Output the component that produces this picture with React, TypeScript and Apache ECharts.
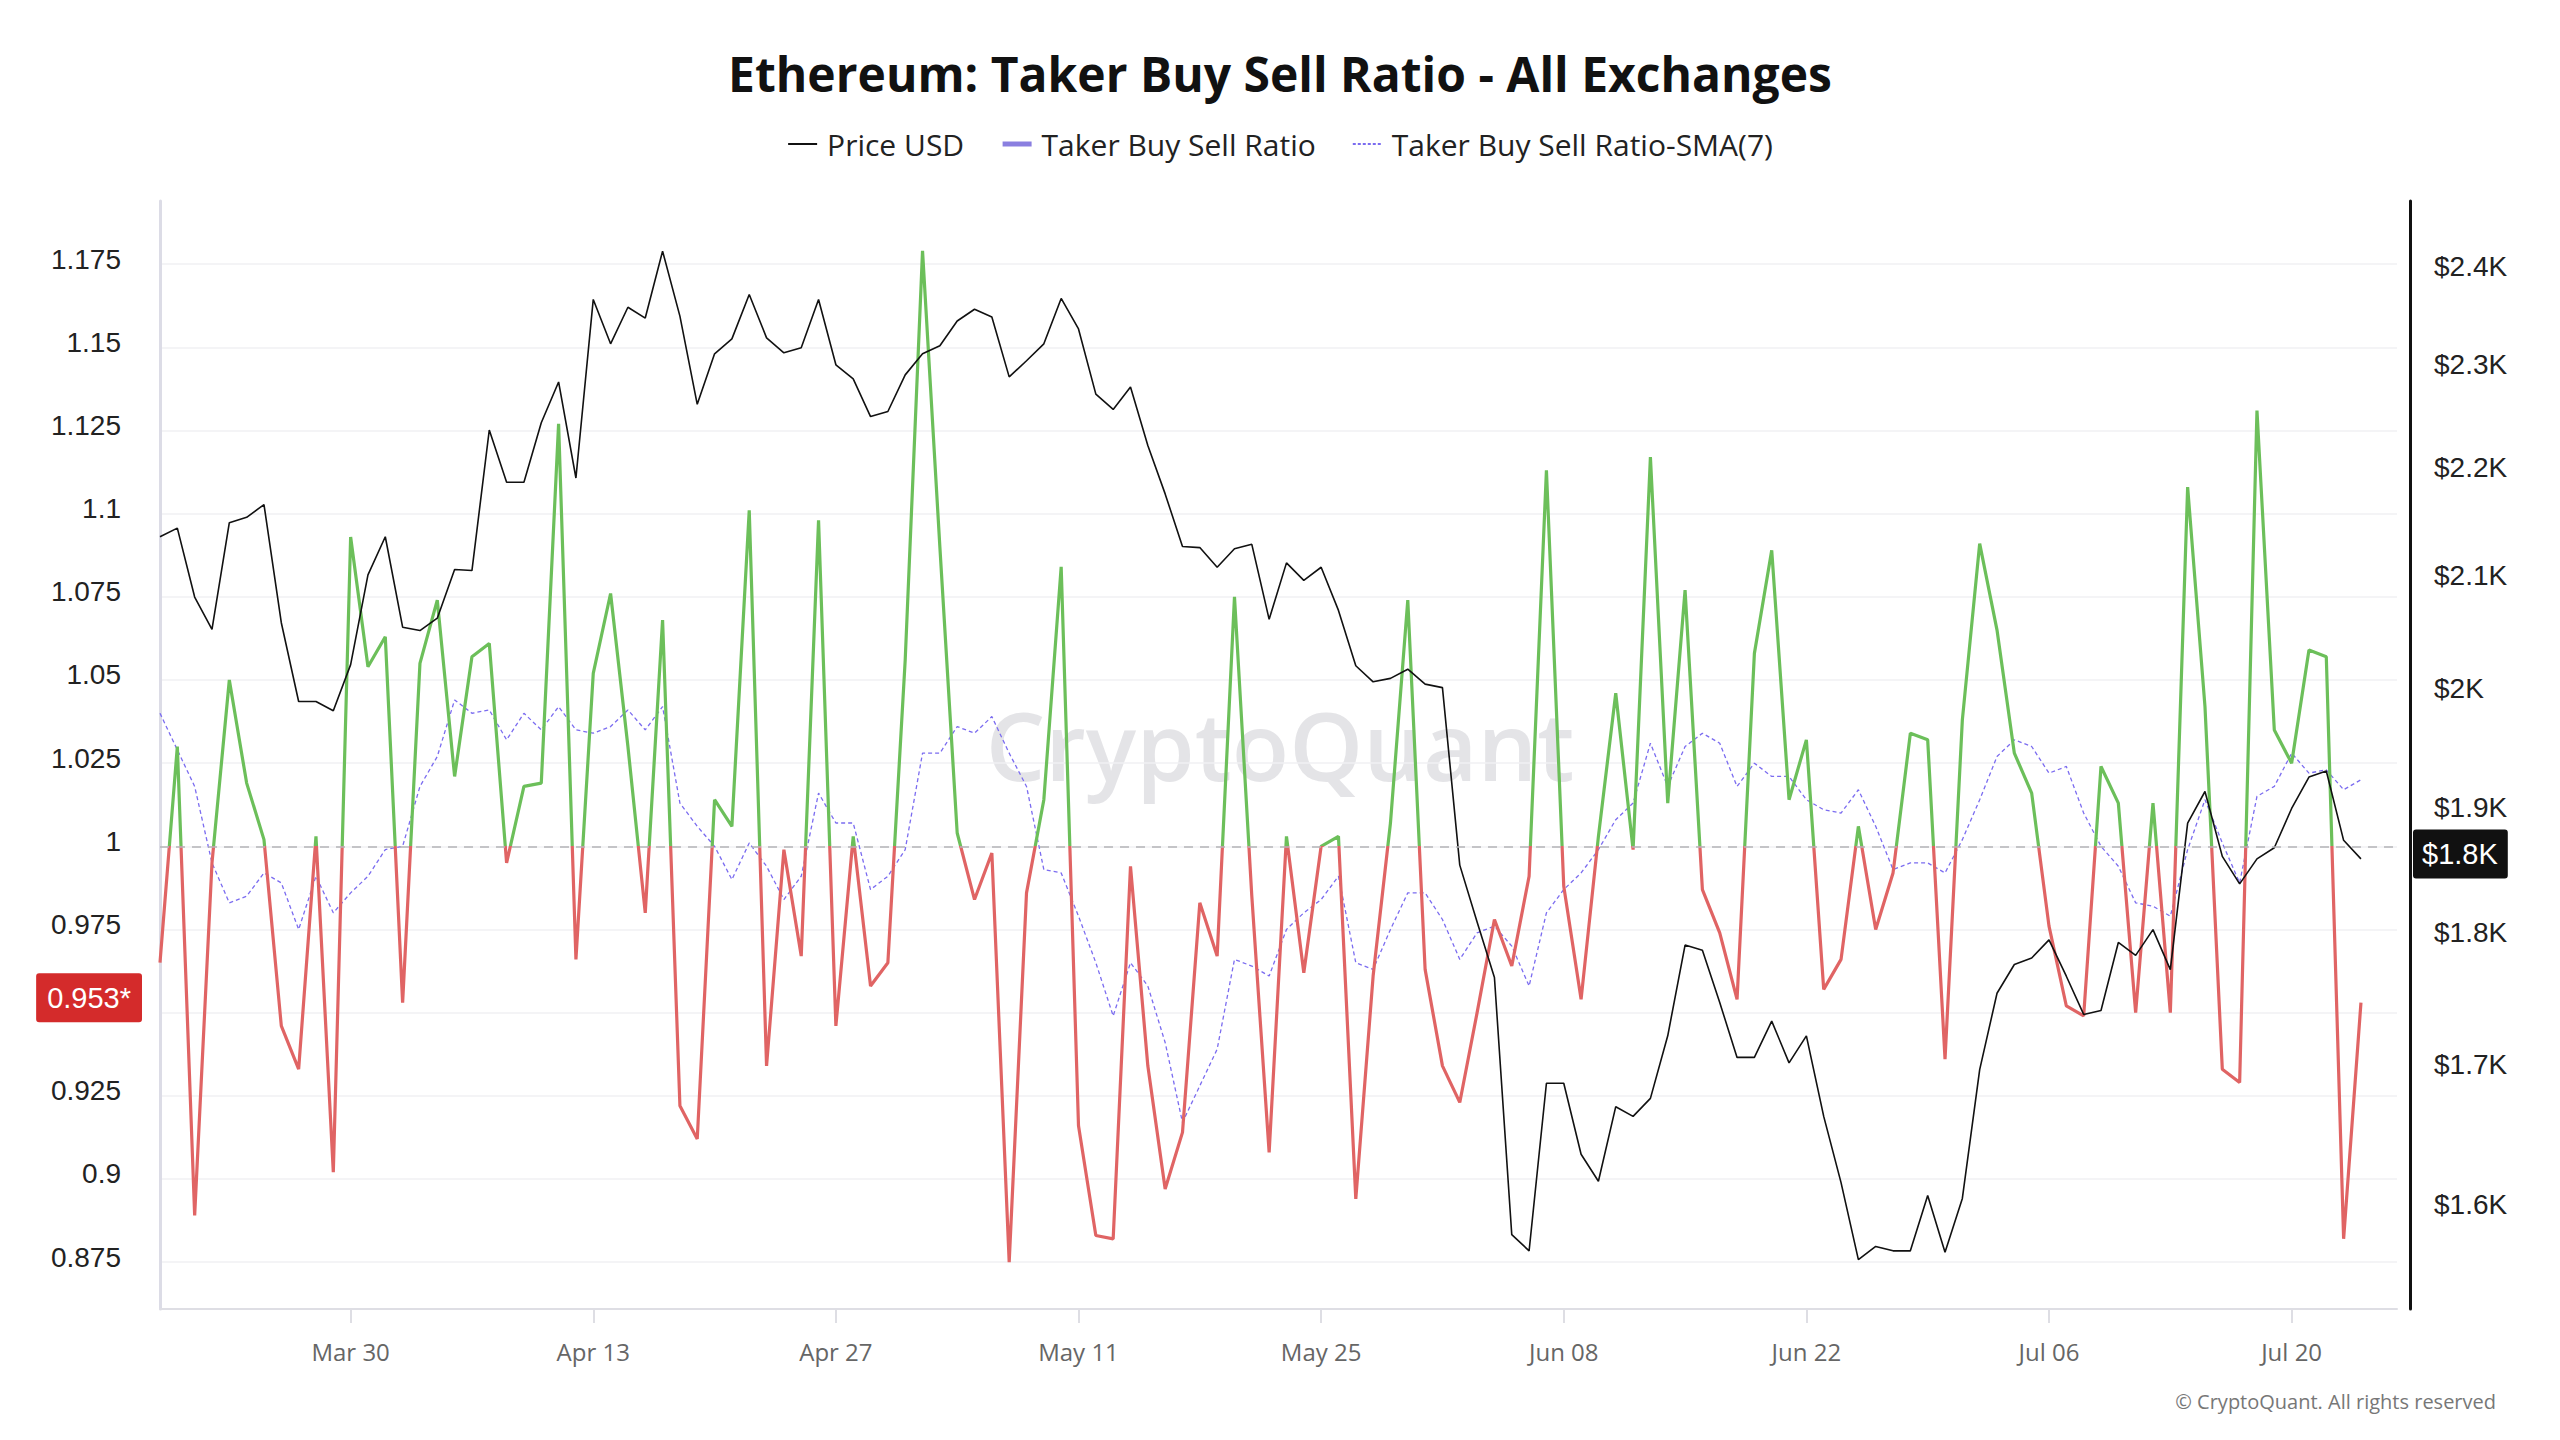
import React, { useEffect, useRef } from "react";
import * as echarts from "echarts";

const START_DATE = "2023-03-19";
const DAY_MS = 86400000;

const priceUsd = [
  2140, 2148, 2085, 2056, 2153, 2158, 2170, 2062, 1993, 1993,
  1985, 2025, 2105, 2140, 2058, 2055, 2066, 2110, 2109, 2241,
  2191, 2191, 2248, 2288, 2195, 2371, 2326, 2363, 2352, 2421,
  2354, 2266, 2316, 2331, 2376, 2332, 2317, 2322, 2371, 2305,
  2291, 2254, 2259, 2295, 2316, 2324, 2349, 2361, 2353, 2293,
  2309, 2326, 2372, 2341, 2276, 2261, 2283, 2226, 2180, 2131,
  2130, 2112, 2129, 2133, 2065, 2116, 2100, 2112, 2073, 2024,
  2010, 2013, 2021, 2008, 2005, 1857, 1812, 1769, 1583, 1572,
  1690, 1690, 1639, 1620, 1673, 1666, 1679, 1725, 1794, 1790,
  1750, 1709, 1709, 1736, 1705, 1725, 1666, 1619, 1566, 1575,
  1572, 1572, 1610, 1571, 1608, 1700, 1757, 1779, 1784, 1798,
  1770, 1741, 1744, 1796, 1786, 1806, 1775, 1891, 1917, 1864,
  1842, 1862, 1871, 1903, 1929, 1934, 1877, 1862,
];

const takerBuySellRatio = [
  0.965, 1.03, 0.889, 0.995, 1.05, 1.019, 1.002, 0.946, 0.933, 1.003,
  0.902, 1.093, 1.054, 1.063, 0.953, 1.055, 1.074, 1.021, 1.057, 1.061,
  0.995, 1.018, 1.019, 1.127, 0.966, 1.052, 1.076, 1.03, 0.98, 1.068,
  0.922, 0.912, 1.014, 1.006, 1.101, 0.934, 0.999, 0.967, 1.098, 0.946,
  1.003, 0.958, 0.965, 1.056, 1.179, 1.09, 1.004, 0.984, 0.998, 0.875,
  0.986, 1.014, 1.084, 0.916, 0.883, 0.882, 0.994, 0.934, 0.897, 0.914,
  0.983, 0.967, 1.075, 0.985, 0.908, 1.003, 0.962, 1.0, 1.003, 0.894,
  0.961, 1.007, 1.074, 0.963, 0.934, 0.923, 0.95, 0.978, 0.964, 0.991,
  1.113, 0.988, 0.954, 1.003, 1.046, 0.999, 1.117, 1.013, 1.077, 0.987,
  0.974, 0.954, 1.058, 1.089, 1.014, 1.032, 0.957, 0.966, 1.006, 0.975,
  0.992, 1.034, 1.032, 0.936, 1.038, 1.091, 1.065, 1.028, 1.016, 0.976,
  0.952, 0.949, 1.024, 1.013, 0.95, 1.013, 0.95, 1.108, 1.042, 0.933,
  0.929, 1.131, 1.035, 1.025, 1.059, 1.057, 0.882, 0.953,
];

const takerBuySellRatioSma7 = [
  1.04, 1.029, 1.018, 0.995, 0.983, 0.985, 0.992, 0.989, 0.975, 0.991,
  0.98, 0.986, 0.991, 0.999, 1.0, 1.018, 1.027, 1.044, 1.04, 1.041,
  1.032, 1.04, 1.035, 1.042, 1.035, 1.034, 1.036, 1.041, 1.035, 1.042,
  1.013, 1.006, 1.0, 0.99, 1.001, 0.994, 0.984, 0.991, 1.016, 1.007,
  1.007, 0.987, 0.991, 0.999, 1.028, 1.028, 1.036, 1.034, 1.039, 1.028,
  1.018, 0.993, 0.992, 0.979, 0.965, 0.949, 0.965, 0.958, 0.941, 0.917,
  0.928, 0.939, 0.966, 0.964, 0.961, 0.975, 0.98, 0.984, 0.991, 0.965,
  0.963, 0.975, 0.986, 0.986, 0.978, 0.966, 0.974, 0.976, 0.97, 0.958,
  0.98, 0.987, 0.992, 0.999, 1.008, 1.013, 1.031, 1.018, 1.03, 1.034,
  1.031, 1.018, 1.025, 1.021, 1.021, 1.014, 1.011, 1.01, 1.017, 1.006,
  0.993, 0.995, 0.995, 0.992, 1.002, 1.014, 1.027, 1.032, 1.03, 1.022,
  1.024, 1.01, 1.0, 0.994, 0.983, 0.982, 0.979, 0.999, 1.014, 1.001,
  0.989, 1.015, 1.018, 1.028, 1.022, 1.023, 1.017, 1.02,
];

const ratioTickValues = [0.875, 0.9, 0.925, 0.95, 0.975, 1, 1.025, 1.05, 1.075, 1.1, 1.125, 1.15, 1.175];
const priceTickValues = [1600, 1700, 1800, 1900, 2000, 2100, 2200, 2300, 2400];
const dateTickValues = [
  "2023-03-30", "2023-04-13", "2023-04-27", "2023-05-11", "2023-05-25",
  "2023-06-08", "2023-06-22", "2023-07-06", "2023-07-20",
];
const MONTHS = ["Jan", "Feb", "Mar", "Apr", "May", "Jun", "Jul", "Aug", "Sep", "Oct", "Nov", "Dec"];

const RATIO_MIN = 0.8609;
const RATIO_MAX = 1.194;
const PRICE_MIN = 1533;
const PRICE_MAX = 2474;
const GREEN = "#6cbf5a";
const RED = "#e06464";

const toMs = (d: string) => Date.parse(d + "T00:00:00Z");
const startMs = toMs(START_DATE);
const dayIndexOf = (d: string) => Math.round((toMs(d) - startMs) / DAY_MS);
const dateTickIdx = dateTickValues.map(dayIndexOf);

const fmtDate = (idx: number) => {
  const d = new Date(startMs + Math.round(idx) * DAY_MS);
  return `${MONTHS[d.getUTCMonth()]} ${String(d.getUTCDate()).padStart(2, "0")}`;
};
const fmtPrice = (v: number) => `$${Math.floor(v / 100 + 1e-6) / 10}K`;
const fmtRatio = (v: number) => String(+(+v).toFixed(3));

const axisFont = "Liberation Sans, Arial, sans-serif";
const uiFont = "Open Sans, Noto Sans, sans-serif";

function buildOption(ratioColoring: "visualMap" | any): any {
  const lastRatio = takerBuySellRatio[takerBuySellRatio.length - 1];
  const lastPrice = priceUsd[priceUsd.length - 1];
  const useVM = ratioColoring === "visualMap";
  const hiddenLine = { color: "rgba(0,0,0,0)", width: 0 };
  // axis label text sits a few pixels above its tick, as in the reference
  const liftedLabel = { verticalAlign: "bottom", lineHeight: 10 };
  return {
    animation: false,
    backgroundColor: "#ffffff",
    title: {
      text: "Ethereum: Taker Buy Sell Ratio - All Exchanges",
      left: "center",
      top: 44,
      textStyle: { fontFamily: uiFont, fontWeight: "bold", fontSize: 48, color: "#111111" },
    },
    legend: {
      top: 124,
      left: "center",
      itemGap: 36,
      itemWidth: 29,
      itemHeight: 14,
      itemStyle: { opacity: 0 },
      textStyle: { fontFamily: uiFont, fontSize: 30, color: "#222222", padding: [0, 0, 0, 5] },
      data: [
        { name: "Price USD", lineStyle: { color: "#111111", width: 2 } },
        { name: "Taker Buy Sell Ratio", lineStyle: { color: "#8a7fe0", width: 5 } },
        { name: "Taker Buy Sell Ratio-SMA(7)", lineStyle: { color: "#7b6cf0", width: 2, type: [3, 2] } },
      ],
    },
    grid: { left: 160, right: 163, top: 201, bottom: 131, containLabel: false },
    visualMap: useVM
      ? {
          type: "piecewise",
          show: false,
          seriesIndex: 1,
          dimension: 1,
          pieces: [
            { gt: 1, lte: 10, color: GREEN },
            { gt: -10, lte: 1, color: RED },
          ],
          outOfRange: { color: RED },
        }
      : undefined,
    graphic: [
      {
        type: "text",
        left: "center",
        top: 698,
        z: 0,
        silent: true,
        style: { text: "CryptoQuant", fontFamily: uiFont, fontSize: 94, fontWeight: 600, fill: "rgba(190,190,198,0.42)" },
      },
      {
        type: "text",
        right: 64,
        top: 1391,
        style: { text: "© CryptoQuant. All rights reserved", fontFamily: uiFont, fontSize: 20, fill: "#777777" },
      },
    ],
    xAxis: {
      type: "value",
      min: 0,
      max: 129.08,
      axisLine: { show: true, onZero: false, lineStyle: { color: "#dedee4", width: 2 } },
      axisTick: { show: true, length: 14, customValues: dateTickIdx, lineStyle: { color: "#dedee4", width: 2 } },
      axisLabel: {
        customValues: dateTickIdx,
        formatter: (v: number) => fmtDate(v),
        fontFamily: uiFont,
        fontSize: 24,
        color: "#666666",
        margin: 30,
      },
      splitLine: { show: false },
    },
    yAxis: [
      {
        type: "value",
        position: "left",
        min: RATIO_MIN,
        max: RATIO_MAX,
        offset: 13,
        axisLine: { show: true, lineStyle: { color: "#dcdce6", width: 3 } },
        axisTick: { show: false, customValues: ratioTickValues },
        axisLabel: {
          customValues: ratioTickValues,
          // labels hidden behind the current-value tag
          formatter: (v: number) => (Math.abs(v - lastRatio) < 0.008 ? "" : fmtRatio(v)),
          fontFamily: axisFont,
          fontSize: 28,
          color: "#222222",
          margin: 26,
          ...liftedLabel,
        },
        splitLine: { show: true, lineStyle: { color: "#f1f1f3", width: 1.5 } },
      },
      {
        type: "log",
        logBase: 10,
        position: "right",
        min: PRICE_MIN,
        max: PRICE_MAX,
        offset: 13,
        axisLine: { show: true, lineStyle: { color: "#111111", width: 3 } },
        axisTick: { show: false },
        axisLabel: {
          customValues: priceTickValues,
          formatter: (v: number) => (Math.abs(Math.log(v / lastPrice)) < 0.011 ? "" : fmtPrice(v)),
          fontFamily: axisFont,
          fontSize: 28,
          color: "#222222",
          margin: 24,
          ...liftedLabel,
        },
        splitLine: { show: false },
      },
    ],
    series: [
      {
        name: "Price USD",
        type: "line",
        yAxisIndex: 1,
        symbol: "none",
        z: 4,
        color: "#111111",
        lineStyle: { color: "#111111", width: 1.6 },
        data: priceUsd.map((v, i) => [i, v]),
        markLine: {
          silent: true,
          precision: 3,
          symbol: ["none", "none"],
          data: [
            {
              yAxis: lastPrice,
              lineStyle: hiddenLine,
              label: {
                show: true,
                position: "end",
                distance: 16,
                offset: [0, -5],
                formatter: (p: any) => fmtPrice(p.value),
                backgroundColor: "#111111",
                color: "#ffffff",
                fontFamily: axisFont,
                fontSize: 29,
                padding: [10, 10, 10, 9],
                borderRadius: 3,
              },
            },
          ],
        },
      },
      {
        name: "Taker Buy Sell Ratio",
        type: "line",
        yAxisIndex: 0,
        symbol: "none",
        z: 3,
        color: "#8a7fe0",
        lineStyle: useVM ? { width: 3.2 } : { width: 3.2, color: ratioColoring },
        data: takerBuySellRatio.map((v, i) => [i, v]),
        markLine: {
          silent: true,
          precision: 3,
          symbol: ["none", "none"],
          data: [
            { yAxis: 1, lineStyle: { color: "#b4b4b8", width: 1.5, type: [9, 7] }, label: { show: false } },
            {
              yAxis: lastRatio,
              lineStyle: hiddenLine,
              label: {
                show: true,
                position: "start",
                distance: 18,
                offset: [0, -5],
                formatter: (p: any) => `${fmtRatio(p.value)}*`,
                backgroundColor: "#d42b2b",
                color: "#ffffff",
                fontFamily: axisFont,
                fontSize: 29,
                padding: [10, 11, 10, 11],
                borderRadius: 3,
              },
            },
          ],
        },
      },
      {
        name: "Taker Buy Sell Ratio-SMA(7)",
        type: "line",
        yAxisIndex: 0,
        symbol: "none",
        z: 2,
        color: "#7b6cf0",
        lineStyle: { color: "#7b6cf0", width: 1.3, type: [4, 3] },
        data: takerBuySellRatioSma7.map((v, i) => [i, v]),
      },
    ],
  };
}

export default function App() {
  const ref = useRef<HTMLDivElement>(null);

  useEffect(() => {
    if (!ref.current) return;
    let chart = echarts.init(ref.current, undefined, { renderer: "svg" });
    try {
      chart.setOption(buildOption("visualMap"));
    } catch (e) {
      chart.dispose();
      chart = echarts.init(ref.current, undefined, { renderer: "svg" });
      chart.setOption(buildOption(GREEN));
      const y1 = chart.convertToPixel({ yAxisIndex: 0 }, 1) as number;
      const grad = new echarts.graphic.LinearGradient(
        0, y1 - 0.5, 0, y1 + 0.5,
        [
          { offset: 0, color: GREEN },
          { offset: 0.5, color: GREEN },
          { offset: 0.5, color: RED },
          { offset: 1, color: RED },
        ],
        true
      );
      chart.setOption(buildOption(grad), true);
    }
    return () => chart.dispose();
  }, []);

  return (
    <div
      ref={ref}
      style={{ position: "fixed", left: 0, top: 0, width: 2560, height: 1440, background: "#fff" }}
    />
  );
}
